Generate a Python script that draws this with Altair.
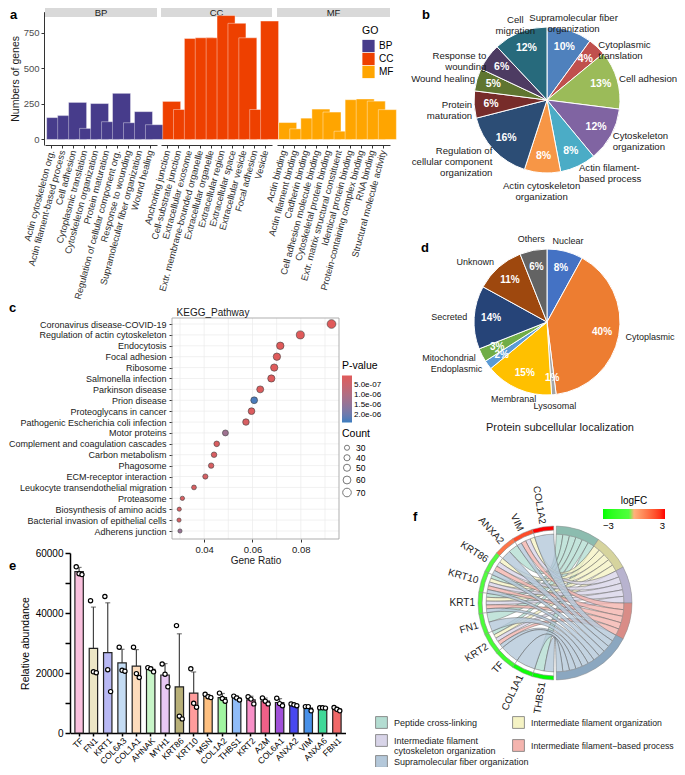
import altair as alt
import numpy as np
import pandas as pd

FONT = "Liberation Sans"
W, H = 669, 759


def X(v):
    return v - 8


def Y(v):
    return v - 8


# ---------------- panel a : GO bar chart ----------------
go_names = ["BP", "CC", "MF"]
go_colors = ["#473c8b", "#ee4000", "#ffa500"]
bp_terms = ["Actin cytoskeleton org.", "Actin filament-based process", "Cell adhesion",
            "Cytoplasmic translation", "Cytoskeleton organization", "Protein maturation",
            "Regulation of cellular component org.", "Response to wounding",
            "Supramolecular fiber organization", "Wound healing"]
bp_counts = [154, 168, 261, 78, 253, 125, 325, 118, 196, 104]
cc_terms = ["Anchoring junction", "Cell-substrate junction", "Extracellular exosome",
            "Extr. membrane-bounded organelle", "Extracellular organelle", "Extracellular region",
            "Extracellular space", "Extracellular vesicle", "Focal adhesion", "Vesicle"]
cc_counts = [268, 211, 711, 716, 716, 873, 818, 716, 211, 834]
mf_terms = ["Actin binding", "Actin filament binding", "Cadherin binding",
            "Cell adhesion molecule binding", "Cytoskeletal protein binding",
            "Extr. matrix structural constituent", "Identical protein binding",
            "Protein-containing complex binding", "RNA binding", "Structural molecule activity"]
mf_counts = [119, 75, 150, 214, 193, 58, 280, 285, 270, 210]
a_ticks = [0, 250, 500, 750]

# ---------------- panel b : BP pie ----------------
b_labels = ["Supramolecular fiber\norganization", "Cytoplasmic\ntranslation", "Cell adhesion",
            "Cytoskeleton\norganization", "Actin filament-\nbased process",
            "Actin cytoskeleton\norganization", "Regulation of\ncellular component\norganization",
            "Protein\nmaturation", "Wound healing", "Response to\nwounding", "Cell\nmigration"]
b_pct = [10, 4, 13, 12, 8, 8, 16, 6, 5, 6, 12]
b_colors = ["#4f81bd", "#c0504d", "#9bbb59", "#8064a2", "#4bacc6", "#f79646",
            "#2c4d75", "#772c2a", "#5f7530", "#4d3b62", "#276a7c"]

# ---------------- panel c : KEGG dot plot ----------------
kegg_terms = ["Coronavirus disease-COVID-19", "Regulation of actin cytoskeleton", "Endocytosis",
              "Focal adhesion", "Ribosome", "Salmonella infection", "Parkinson disease",
              "Prion disease", "Proteoglycans in cancer", "Pathogenic Escherichia coli infection",
              "Motor proteins", "Complement and coagulation cascades", "Carbon metabolism",
              "Phagosome", "ECM-receptor interaction", "Leukocyte transendothelial migration",
              "Proteasome", "Biosynthesis of amino acids", "Bacterial invasion of epithelial cells",
              "Adherens junction"]
kegg_ratio = [0.0927, 0.0798, 0.0715, 0.0701, 0.0690, 0.0678, 0.0632, 0.0607, 0.0596, 0.0573,
              0.0488, 0.0452, 0.0441, 0.0429, 0.0405, 0.0358, 0.0310, 0.0297, 0.0296, 0.0300]
kegg_count = [72, 62, 55, 54, 53, 52, 49, 47, 46, 44, 38, 35, 34, 33, 31, 28, 24, 23, 23, 23]
kegg_p = [1e-9, 1e-8, 5e-9, 2e-8, 3e-8, 5e-8, 8e-8, 2.3e-6, 1e-7, 2e-7, 1.3e-6, 1.5e-7,
          1.8e-7, 2e-7, 2.5e-7, 2e-7, 2e-7, 2.5e-7, 2.5e-7, 1.4e-6]
c_grid = [0.03, 0.04, 0.05, 0.06, 0.07, 0.08, 0.09]
c_xticks = [0.04, 0.06, 0.08]
c_pticks = [5e-7, 1e-6, 1.5e-6, 2e-6]
c_cticks = [30, 40, 50, 60, 70]

# ---------------- panel d : subcellular pie ----------------
d_labels = ["Nuclear", "Cytoplasmic", "Lysosomal", "Membranal", "Endoplasmic",
            "Mitochondrial", "Secreted", "Unknown", "Others"]
d_pct = [8, 40, 1, 15, 2, 3, 14, 11, 6]
d_colors = ["#4472c4", "#ed7d31", "#a5a5a5", "#ffc000", "#5b9bd5", "#70ad47",
            "#264478", "#9e480e", "#636363"]

# ---------------- panel e : abundance bars ----------------
e_genes = ["TF", "FN1", "KRT1", "COL6A3", "COL1A1", "AHNAK", "MYH1", "KRT86", "KRT10", "MSN",
           "COL1A2", "THBS1", "KRT2", "A2M", "COL6A1", "ANXA2", "VIM", "ANXA6", "FBN1"]
e_rep1 = [55400, 44100, 45500, 28600, 28600, 21800, 23000, 35800, 21400, 12900,
          13300, 12300, 12100, 11700, 11600, 9700, 8800, 8400, 8500]
e_rep2 = [53100, 20400, 21100, 20900, 19800, 21400, 19600, 5600, 9900, 12100,
          11500, 11700, 11300, 10600, 9800, 9400, 8800, 8400, 7900]
e_rep3 = [52800, 20100, 13800, 20600, 18500, 20400, 15400, 4700, 8600, 11800,
          10600, 11000, 9700, 9700, 9100, 9100, 7400, 8300, 7400]
e_colors = ["#f9c0dd", "#ece6c6", "#b8b8f4", "#c4dcf4", "#fddcbc", "#c8f5c8", "#e8c8f4",
            "#b8b078", "#ff9c9c", "#ffc080", "#a0f5a0", "#90bcf8", "#f890c8", "#f06088",
            "#a050d8", "#4848f0", "#4890e8", "#40d898", "#f06868"]
e_yticks = [0, 10000, 20000, 30000, 40000, 50000, 60000]

# ---------------- panel f : chord ----------------
f_genes = ["COL1A2", "VIM", "ANXA2", "KRT86", "KRT10", "KRT1", "FN1", "KRT2", "TF", "COL1A1", "THBS1"]
f_logfc = [3.0, 2.1, 1.3, -0.3, -0.5, -0.6, -0.8, -1.0, -1.5, -2.8, -3.0]
f_terms = ["Peptide cross-linking", "Intermediate filament organization",
           "Intermediate filament cytoskeleton organization", "Intermediate filament\u2212based process",
           "Supramolecular fiber organization"]
f_gene_terms = [[4], [1, 2, 3, 4], [0, 4], [1, 2, 3, 4], [0, 1, 2, 3, 4], [0, 1, 2, 3, 4],
                [0, 4], [0, 1, 2, 3, 4], [4], [4], [0, 4]]
f_light = ["#b4ddd2", "#f5f3c4", "#d8d4e8", "#f4b4ae", "#b4c8da"]
f_dark = ["#8cbcaf", "#d6d49e", "#b8b3cf", "#d98c87", "#8ba7c0"]

layers = []


def label(text, x, y, size=10.0, weight="normal", align="center", baseline="middle", color="#1a1a1a"):
    return alt.Chart(pd.DataFrame({"t": [text]})).mark_text(
        fontSize=size, fontWeight=weight, align=align, baseline=baseline, color=color, font=FONT
    ).encode(x=alt.value(X(x)), y=alt.value(Y(y)), text="t:N")


# ====== panel a ======
a_panels = [("BP", bp_terms, bp_counts, 45, 157), ("CC", cc_terms, cc_counts, 161, 272),
            ("MF", mf_terms, mf_counts, 277, 390)]
for k, (go, terms, counts, x0, x1) in enumerate(a_panels):
    df = pd.DataFrame({"term": terms, "n": counts, "GO": go})
    xs = alt.Scale(domain=terms, range=[X(x0), X(x1)], paddingInner=0.1, paddingOuter=0.15)
    ys = alt.Scale(domain=[-39, 900], range=[Y(145), Y(11.7)], nice=False, zero=False)
    xaxis = alt.Axis(orient="bottom", offset=Y(145) - H, labelAngle=-75, labelFontSize=9.3,
                     labelColor="#333333", domainColor="#333333", tickColor="#333333", tickSize=3,
                     labelPadding=2, title=None, labelLimit=300)
    if k == 0:
        yaxis = alt.Axis(orient="left", offset=-X(44), values=a_ticks, labelFontSize=9.5,
                         labelColor="#4d4d4d", domainColor="#333333", tickColor="#333333",
                         tickSize=3, title="Numbers of genes", titleFontSize=10.5,
                         titleFontWeight="normal", titleColor="#1a1a1a", titlePadding=3, grid=False)
        leg = alt.Legend(title="GO", orient="none", legendX=X(362), legendY=Y(26),
                         symbolType="square", symbolSize=150, symbolStrokeWidth=0,
                         labelFontSize=10, titleFontSize=10.5, titleFontWeight="normal",
                         rowPadding=0, titlePadding=3)
    else:
        yaxis = None
        leg = None
    strip = alt.Chart(pd.DataFrame({"GO": [go]})).mark_rect(color="#d9d9d9").encode(
        x=alt.value(X(x0)), x2=alt.value(X(x1)), y=alt.value(0), y2=alt.value(Y(17)))
    striptext = alt.Chart(pd.DataFrame({"GO": [go]})).mark_text(
        fontSize=9.5, color="#1a1a1a", font=FONT, baseline="middle").encode(
        x=alt.value((X(x0) + X(x1)) / 2), y=alt.value(Y(12.5)), text="GO:N")
    bars = alt.Chart(df).mark_bar(stroke="white", strokeWidth=0.4).encode(
        x=alt.X("term:N", sort=terms, scale=xs, axis=xaxis),
        y=alt.Y("n:Q", scale=ys, axis=yaxis),
        color=alt.Color("GO:N", scale=alt.Scale(domain=go_names, range=go_colors), legend=leg))
    layers += [strip, striptext, bars]


# ====== pies (b, d) ======
def pie_layers(labels, pcts, colors, cx, cy, r, r_pct, r_side, r_mid, fs, pfs):
    df = pd.DataFrame({"label": labels, "pct": pcts, "idx": list(range(len(labels)))})
    base = alt.Chart(df).transform_window(
        cum="sum(pct)", sort=[alt.SortField("idx")], frame=[None, 0]
    ).transform_joinaggregate(tot="sum(pct)").transform_calculate(
        a0="2*PI*(datum.cum-datum.pct)/datum.tot",
        a1="2*PI*datum.cum/datum.tot",
        am="PI*(2*datum.cum-datum.pct)/datum.tot",
        deg="180*(2*datum.cum-datum.pct)/datum.tot",
        ptxt="datum.pct + '%'",
    )
    pos = dict(x=alt.value(X(cx)), y=alt.value(Y(cy)))
    arcs = base.mark_arc(radius=r, stroke="white", strokeWidth=1).encode(
        theta=alt.Theta("a0:Q", scale=None), theta2="a1:Q",
        fill=alt.Fill("label:N", scale=alt.Scale(domain=labels, range=colors), legend=None), **pos)
    pct = base.mark_text(radius=r_pct, color="white", fontWeight="bold", fontSize=pfs, font=FONT).encode(
        theta=alt.Theta("am:Q", scale=None), text="ptxt:N", **pos)
    common = dict(fontSize=fs, font=FONT, color="#1a1a1a", lineBreak="\n", baseline="middle",
                  lineHeight=fs + 1.2)
    left = base.transform_filter("datum.deg >= 30 && datum.deg <= 160").mark_text(
        radius=r_side, align="left", **common).encode(
        theta=alt.Theta("am:Q", scale=None), text="label:N", **pos)
    right = base.transform_filter("datum.deg >= 210 && datum.deg <= 330").mark_text(
        radius=r_side, align="right", **common).encode(
        theta=alt.Theta("am:Q", scale=None), text="label:N", **pos)
    mid = base.transform_filter("datum.deg < 30 || datum.deg > 330 || (datum.deg > 160 && datum.deg < 210)").mark_text(
        radius=r_mid, align="center", **common).encode(
        theta=alt.Theta("am:Q", scale=None), text="label:N", **pos)
    return [arcs, pct, left, right, mid]


layers += pie_layers(b_labels, b_pct, b_colors, 547, 100, 73, 56, 75, 86, 9.6, 10.5)
layers += pie_layers(d_labels, d_pct, d_colors, 547, 322, 73, 56, 80, 84, 9, 10)
layers.append(label("Protein subcellular localization", 560, 428, size=11))

# ====== panel c ======
c_df = pd.DataFrame({"term": kegg_terms, "ratio": kegg_ratio, "count": kegg_count, "p": kegg_p})
cxs = alt.Scale(domain=[0.0267, 0.0958], range=[X(172), X(339)], nice=False, zero=False)
cys = alt.Scale(type="point", domain=kegg_terms, range=[Y(324), Y(531)], padding=0)
c_vgrid = alt.Chart(pd.DataFrame({"v": c_grid})).mark_rule(color="#ebebeb", strokeWidth=0.7).encode(
    x=alt.X("v:Q", scale=cxs, axis=None), y=alt.value(Y(318)), y2=alt.value(Y(539)))
c_hgrid = alt.Chart(c_df).mark_rule(color="#ebebeb", strokeWidth=0.7).encode(
    y=alt.Y("term:N", scale=cys, axis=None), x=alt.value(X(172)), x2=alt.value(X(339)))
c_border = alt.Chart(pd.DataFrame({"k": [0]})).mark_rect(fill=None, stroke="#a6a6a6", strokeWidth=0.9).encode(
    x=alt.value(X(172)), x2=alt.value(X(339)), y=alt.value(Y(318)), y2=alt.value(Y(539)))
c_pts = alt.Chart(c_df).mark_circle(stroke="#404040", strokeWidth=0.6, opacity=1).encode(
    x=alt.X("ratio:Q", scale=cxs, axis=alt.Axis(
        orient="bottom", offset=Y(539) - H, values=c_xticks, format=".2f", domain=False,
        tickColor="#333333", tickSize=3, labelFontSize=9.5, labelColor="#1a1a1a", labelPadding=2,
        title="Gene Ratio", titleFontSize=10, titleFontWeight="normal", titleColor="#1a1a1a",
        titlePadding=2, grid=False)),
    y=alt.Y("term:N", scale=cys, axis=alt.Axis(
        orient="left", offset=-X(172), domain=False, tickColor="#333333", tickSize=3,
        labelFontSize=9.0, labelColor="#1a1a1a", labelPadding=3, labelLimit=400, title=None, grid=False)),
    color=alt.Color("p:Q", scale=alt.Scale(domain=[2.4e-6, 0], range=["#3b7dbf", "#e05a5a"],
                                           interpolate="lab", nice=False, zero=False),
                    legend=alt.Legend(title="P-value", orient="none", legendX=X(342), legendY=Y(361),
                                      direction="vertical", gradientLength=47, gradientThickness=10,
                                      values=c_pticks, labelFontSize=8,
                                      labelExpr="replace(format(datum.value, '.1e'), 'e-', 'e-0')",
                                      titleFontSize=10.5, titleFontWeight="normal", titlePadding=4,
                                      gradientStrokeWidth=0)),
    size=alt.Size("count:Q", scale=alt.Scale(domain=[20, 75], range=[14, 80], zero=False),
                  legend=alt.Legend(title="Count", orient="none", legendX=X(342), legendY=Y(429),
                                    values=c_cticks, symbolFillColor="white", symbolStrokeColor="#555555",
                                    symbolStrokeWidth=0.8, labelFontSize=8.5, titleFontSize=10.5,
                                    titleFontWeight="normal", rowPadding=0, titlePadding=4)),
)
layers += [c_vgrid, c_hgrid, c_border, c_pts]
layers.append(label("KEGG_Pathway", 213, 313, size=10))

# ====== panel e ======
e_df = pd.DataFrame([{"gene": g, "rep": k, "value": reps[i]}
                     for i, g in enumerate(e_genes)
                     for k, reps in enumerate([e_rep1, e_rep2, e_rep3])])
E0, E1 = 733, 553
exs = alt.Scale(domain=e_genes, range=[X(70.5), X(345.5)], paddingInner=0.4, paddingOuter=0.3)
eys = alt.Scale(domain=[0, 60000], range=[Y(E0), Y(E1)], nice=False, zero=False)
e_xaxis = alt.Axis(orient="bottom", offset=Y(E0) - H, labelAngle=-45, labelFontSize=8.6,
                   labelColor="black", domainColor="black", domainWidth=1.5, tickColor="black",
                   tickWidth=1.5, tickSize=3, title=None, labelPadding=0, labelLimit=200)
e_yaxis = alt.Axis(orient="left", offset=-X(70), values=e_yticks, format="d",
                   labelExpr="datum.value % 20000 == 0 ? datum.label : ''",
                   labelFontSize=10, labelColor="black", domainColor="black", domainWidth=1.5,
                   tickColor="black", tickWidth=1.5, tickSize=5, title="Relative abundance",
                   titleFontSize=10.5, titleFontWeight="normal", titleColor="black", titlePadding=5,
                   grid=False)
e_stats = alt.Chart(e_df).transform_aggregate(
    m="mean(value)", sd="stdev(value)", groupby=["gene"]).transform_calculate(hi="datum.m + datum.sd")
e_err = e_stats.mark_rule(color="#444444", strokeWidth=1.2).encode(
    x=alt.X("gene:N", sort=e_genes, scale=exs, axis=None),
    y=alt.Y("m:Q", scale=eys, axis=None), y2="hi:Q")
e_cap = e_stats.mark_tick(color="#444444", thickness=1.2, size=5, orient="horizontal").encode(
    x=alt.X("gene:N", sort=e_genes, scale=exs, axis=None),
    y=alt.Y("hi:Q", scale=eys, axis=None))
e_bars = e_stats.mark_bar(stroke="#222222", strokeWidth=1.2, width=8.4).encode(
    x=alt.X("gene:N", sort=e_genes, scale=exs, axis=e_xaxis),
    y=alt.Y("m:Q", scale=eys, axis=e_yaxis),
    fill=alt.Fill("gene:N", scale=alt.Scale(domain=e_genes, range=e_colors), legend=None))
e_pts = alt.Chart(e_df).mark_circle(fill="white", stroke="black", strokeWidth=1.2, size=18, opacity=1).encode(
    x=alt.X("gene:N", sort=e_genes, scale=exs, axis=None),
    xOffset=alt.XOffset("rep:N"),
    y=alt.Y("value:Q", scale=eys, axis=None))
layers += [e_err, e_cap, e_bars, e_pts]

# ====== panel f ======
fcx, fcy = X(555), Y(603)
R_OUT, R_MID, R_IN = 77, 73, 69
GAP = 1.0
n_g = len(f_genes)
g_span = (180 - 2 * GAP) / n_g
gene_iv = []
for i in range(n_g):
    hi = 360 - GAP - i * g_span
    gene_iv.append((hi - g_span, hi))
t_count = [sum(1 for ts in f_gene_terms if t in ts) for t in range(len(f_terms))]
t_tot = sum(t_count)
term_iv = []
cpos = GAP
for t in range(len(f_terms)):
    w = t_count[t] * (180 - 2 * GAP) / t_tot
    term_iv.append((cpos, cpos + w))
    cpos += w
g_sub = {}
for i, ts in enumerate(f_gene_terms):
    lo, hi = gene_iv[i]
    order = sorted(ts, reverse=True)
    st = (hi - lo) / len(order)
    for j, t in enumerate(order):
        g_sub[(i, t)] = (lo + j * st, lo + (j + 1) * st)
t_sub = {}
for t in range(len(f_terms)):
    gl = [i for i, ts in enumerate(f_gene_terms) if t in ts]
    lo, hi = term_iv[t]
    st = (hi - lo) / len(gl)
    for j, i in enumerate(gl):
        t_sub[(i, t)] = (lo + j * st, lo + (j + 1) * st)


def pt(a, r):
    rad = np.radians(a)
    return [fcx + r * np.sin(rad), fcy - r * np.cos(rad)]


def arc_pts(a0, a1, r):
    n = max(3, int(abs(a1 - a0) * 2) + 2)
    return [pt(a, r) for a in np.linspace(a0, a1, n)]


def bez(p0, p1):
    out = []
    for tt in np.linspace(0, 1, 30)[1:-1]:
        out.append([(1 - tt) ** 2 * p0[0] + 2 * (1 - tt) * tt * fcx + tt * tt * p1[0],
                    (1 - tt) ** 2 * p0[1] + 2 * (1 - tt) * tt * fcy + tt * tt * p1[1]])
    return out


features = []
for t in range(len(f_terms)):
    for i, ts in enumerate(f_gene_terms):
        if t not in ts:
            continue
        s0, s1 = g_sub[(i, t)]
        t0, t1 = t_sub[(i, t)]
        ring = (arc_pts(s0, s1, R_IN) + bez(pt(s1, R_IN), pt(t0, R_IN)) +
                arc_pts(t0, t1, R_IN) + bez(pt(t1, R_IN), pt(s0, R_IN)))
        ring.append(ring[0])
        features.append({"type": "Feature", "properties": {"term": f_terms[t]},
                         "geometry": {"type": "Polygon",
                                      "coordinates": [[[float(a), float(b)] for a, b in ring]]}})

ribbons = alt.Chart(alt.Data(values=features)).mark_geoshape(
    stroke="#555555", strokeWidth=0.45, fillOpacity=0.8).encode(
    fill=alt.Fill("properties.term:N", scale=alt.Scale(domain=f_terms, range=f_light), legend=None)
).project(type="identity", scale=1, translate=[0, 0])

t_df = pd.DataFrame({"term": f_terms,
                     "a0": [np.radians(a) for a, b in term_iv],
                     "a1": [np.radians(b) for a, b in term_iv]})
fpos = dict(x=alt.value(fcx), y=alt.value(fcy))
two_line = ("datum.label == 'Intermediate filament cytoskeleton organization' ? "
            "['Intermediate filament', 'cytoskeleton organization'] : datum.label")


def term_legend_layer(idx, lx, ly, pad, fs=9.0):
    dom = [f_terms[j] for j in idx]
    rng = [f_light[j] for j in idx]
    return alt.Chart(t_df).transform_filter(alt.FieldOneOfPredicate(field="term", oneOf=dom)).mark_arc(
        radius=R_OUT, radius2=R_IN).encode(
        theta=alt.Theta("a0:Q", scale=None), theta2="a1:Q",
        fill=alt.Fill("term:N", scale=alt.Scale(domain=dom, range=rng),
                      legend=alt.Legend(title=None, orient="none", legendX=X(lx), legendY=Y(ly),
                                        symbolType="square", symbolSize=140, symbolStrokeColor="#777777",
                                        symbolStrokeWidth=0.8, labelFontSize=fs, labelColor="#1a1a1a",
                                        rowPadding=pad, labelLimit=400, labelExpr=two_line,
                                        labelOffset=6)),
        **fpos)


t_leg1 = term_legend_layer([0, 2], 375, 716, 1)
t_leg2 = term_legend_layer([4], 375, 755, 0)
t_leg3 = term_legend_layer([1, 3], 512, 716, 6, 8.7)
t_dark = alt.Chart(t_df).mark_arc(radius=R_OUT, radius2=R_IN, stroke="#8a8a8a", strokeWidth=0.5).encode(
    theta=alt.Theta("a0:Q", scale=None), theta2="a1:Q",
    fill=alt.Fill("term:N", scale=alt.Scale(domain=f_terms, range=f_dark), legend=None), **fpos)

g_df = pd.DataFrame({"gene": f_genes, "logfc": f_logfc,
                     "a0": [np.radians(a) for a, b in gene_iv],
                     "a1": [np.radians(b) for a, b in gene_iv],
                     "am": [np.radians((a + b) / 2) for a, b in gene_iv],
                     "rot": [((a + b) / 2 - 270) % 360 for a, b in gene_iv]})
g_white = alt.Chart(g_df).mark_arc(radius=R_MID, radius2=R_IN, fill="white", stroke="#8a8a8a",
                                   strokeWidth=0.5).encode(
    theta=alt.Theta("a0:Q", scale=None), theta2="a1:Q", **fpos)
g_band = alt.Chart(g_df).mark_arc(radius=R_OUT, radius2=R_MID, stroke="#8a8a8a", strokeWidth=0.5).encode(
    theta=alt.Theta("a0:Q", scale=None), theta2="a1:Q",
    fill=alt.Fill("logfc:Q", scale=alt.Scale(domain=[-3, 0, 3], range=["#00ff00", "#ffffff", "#ff0000"]),
                  legend=alt.Legend(title="logFC", orient="none", legendX=X(603), legendY=Y(496),
                                    direction="horizontal", gradientLength=62, gradientThickness=10,
                                    values=[-3, 3], labelFontSize=9.5, titleFontSize=10,
                                    titleFontWeight="normal", titleAnchor="middle", titlePadding=3,
                                    gradientStrokeWidth=0)),
    **fpos)
g_text = alt.Chart(g_df).mark_text(radius=R_OUT + 3, align="right", baseline="middle", fontSize=10,
                                   font=FONT, color="#1a1a1a").encode(
    theta=alt.Theta("am:Q", scale=None), angle=alt.Angle("rot:Q", scale=None), text="gene:N", **fpos)
layers += [ribbons, t_leg1, t_leg2, t_leg3, t_dark, g_white, g_band, g_text]

# ====== panel letters ======
for ch, lx, ly in [("a", 10, 9), ("b", 422, 9), ("c", 9, 308), ("d", 421, 248), ("e", 9, 566), ("f", 413, 517)]:
    layers.append(label(ch, lx, ly, size=13, weight="bold", align="left", baseline="top" if ly < 12 else "middle",
                        color="black"))

chart = alt.layer(*layers).resolve_scale(
    x="independent", y="independent", color="independent", fill="independent", size="independent"
).properties(width=W, height=H, autosize=alt.AutoSizeParams(type="none"), padding=0)
chart = chart.configure_view(stroke=None).configure_axis(
    labelFont=FONT, titleFont=FONT).configure_legend(labelFont=FONT, titleFont=FONT)
chart.config.style = {"guide-label": {"lineHeight": 10}}
chart.save("out.html", embed_options={"renderer": "svg", "actions": False})
